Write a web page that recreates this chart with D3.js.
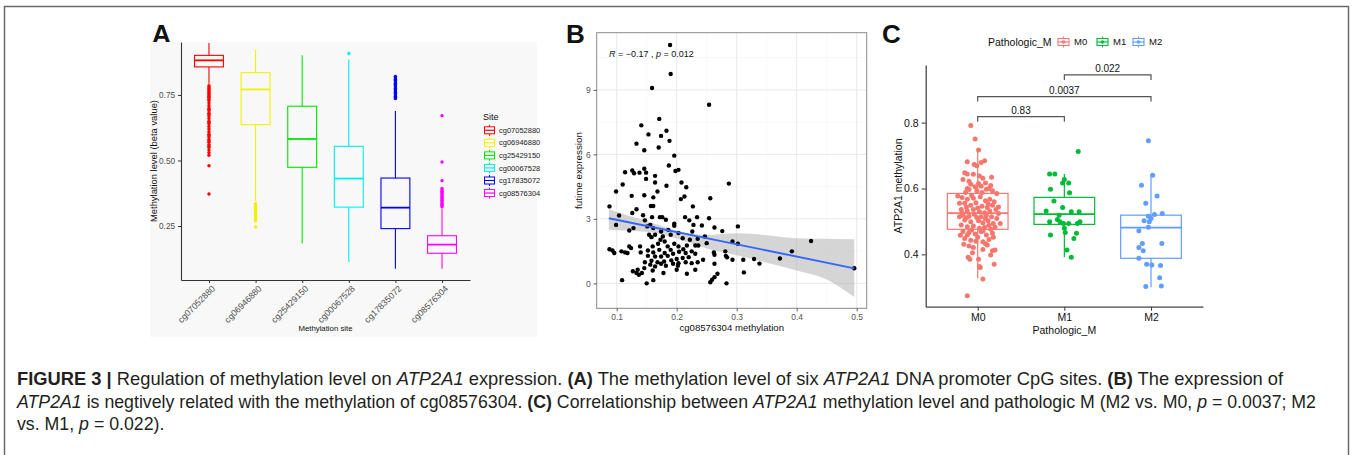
<!DOCTYPE html>
<html><head><meta charset="utf-8">
<script src="https://cdn.jsdelivr.net/npm/d3@7"></script>
<style>body{margin:0;background:#fff}svg{display:block}text{font-family:"Liberation Sans",Arial,sans-serif}</style>
</head><body><svg id="fig" width="1352" height="455"></svg>
<script>
// ---------------- Panel A data ----------------
const sites = ["cg07052880","cg06946880","cg25429150","cg00067528","cg17835072","cg08576304"];
const siteColors = ["#FF0000","#F2F200","#00E800","#00EEEE","#0000FF","#FF00FF"];
const siteLow  = [0.793, 0.345, 0.183, 0.113, 0.087, 0.087];
const siteQ1   = [0.857, 0.637, 0.474, 0.322, 0.240, 0.146];
const siteMed  = [0.882, 0.771, 0.582, 0.431, 0.320, 0.179];
const siteQ3   = [0.901, 0.835, 0.707, 0.554, 0.433, 0.213];
const siteHigh = [0.948, 0.923, 0.901, 0.885, 0.689, 0.316];
const siteOutliers = [
  [0.785,0.78,0.775,0.77,0.765,0.76,0.755,0.75,0.745,0.74,0.735,0.73,0.72,0.71,0.70,0.695,0.69,0.68,0.675,0.67,0.66,0.65,0.645,0.64,0.63,0.62,0.61,0.60,0.595,0.59,0.58,0.575,0.57,0.56,0.555,0.55,0.54,0.53,0.52,0.48,0.372],
  [0.335,0.33,0.325,0.32,0.315,0.31,0.305,0.30,0.295,0.29,0.285,0.28,0.275,0.27,0.246],
  [],
  [0.908],
  [0.821,0.815,0.81,0.805,0.80,0.795,0.79,0.785,0.78,0.775,0.77,0.765,0.76,0.755,0.75,0.745,0.74,0.736],
  [0.671,0.494,0.423,0.393,0.388,0.383,0.378,0.373,0.368,0.363,0.358,0.353,0.348,0.343,0.338,0.333,0.328,0.323]
];
const tickA = [0.25,0.50,0.75];

// ---------------- Panel B data ----------------
const bX = [0.189,0.190,0.159,0.254,0.171,0.141,0.183,0.153,0.174,0.188,0.133,0.170,0.146,0.196,0.187,0.203,0.198,0.126,0.146,0.114,0.129,0.138,0.149,0.164,0.149,0.164,0.208,0.287,0.110,0.183,0.216,0.099,0.168,0.125,0.146,0.213,0.161,0.256,0.207,0.157,0.161,0.088,0.227,0.133,0.126,0.144,0.104,0.159,0.172,0.176,0.214,0.234,0.254,0.182,0.147,0.221,0.196,0.196,0.099,0.156,0.228,0.242,0.151,0.302,0.263,0.128,0.161,0.186,0.121,0.276,0.174,0.226,0.203,0.164,0.154,0.190,0.177,0.247,0.158,0.210,0.235,0.173,0.222,0.293,0.180,0.424,0.250,0.169,0.196,0.302,0.217,0.231,0.236,0.185,0.203,0.160,0.139,0.121,0.124,0.211,0.088,0.190,0.171,0.093,0.152,0.108,0.225,0.392,0.281,0.204,0.114,0.140,0.161,0.262,0.096,0.118,0.180,0.215,0.194,0.231,0.263,0.152,0.185,0.282,0.164,0.174,0.220,0.284,0.210,0.372,0.200,0.329,0.244,0.293,0.311,0.191,0.158,0.179,0.168,0.147,0.215,0.235,0.203,0.225,0.174,0.194,0.263,0.338,0.156,0.182,0.202,0.164,0.146,0.496,0.135,0.200,0.231,0.160,0.127,0.312,0.133,0.142,0.178,0.268,0.217,0.137,0.263,0.259,0.109,0.161,0.256,0.150,0.283];
const bY = [11.09,9.74,9.09,8.31,7.65,7.35,7.10,6.93,6.86,6.63,6.50,6.32,6.19,5.94,5.48,5.28,5.23,5.25,5.33,5.17,5.12,5.15,5.15,5.00,4.86,4.69,4.69,4.64,4.60,4.54,4.47,4.27,4.27,4.07,4.10,4.04,4.00,3.96,3.92,3.60,3.60,3.58,3.58,3.45,3.27,3.17,3.16,3.08,3.08,3.08,3.08,3.08,3.03,2.96,2.93,2.93,2.77,2.68,2.72,2.72,2.72,2.69,2.65,2.65,2.60,2.57,2.57,2.49,2.46,2.43,2.41,2.41,2.34,2.26,2.26,2.26,2.18,2.18,2.15,2.10,2.07,2.03,2.03,1.95,1.95,1.97,1.87,1.84,1.84,1.84,1.76,1.76,1.76,1.72,1.72,1.72,1.72,1.72,1.64,1.59,1.59,1.56,1.56,1.53,1.53,1.49,1.49,1.49,1.49,1.47,1.44,1.44,1.44,1.44,1.41,1.41,1.41,1.41,1.38,1.38,1.33,1.28,1.28,1.28,1.25,1.25,1.22,1.21,1.18,1.16,1.13,1.13,1.10,1.10,1.10,1.07,1.05,1.02,0.98,0.98,0.98,0.98,0.94,0.94,0.91,0.91,0.91,0.92,0.87,0.82,0.82,0.79,0.71,0.70,0.63,0.63,0.63,0.60,0.56,0.51,0.48,0.48,0.48,0.45,0.45,0.40,0.29,0.17,0.15,0.15,0.05,0.00,0.00];
const fitX = [0.087, 0.496];
const fitY = [3.03, 0.70];
const bandX  = [0.087,0.12,0.15,0.19,0.22,0.25,0.30,0.35,0.40,0.45,0.496];
const bandLo = [2.49,2.45,2.40,2.17,1.90,1.62,1.31,0.96,0.60,0.18,-0.64];
const bandHi = [3.46,3.14,2.90,2.53,2.33,2.25,2.33,2.24,2.10,2.07,2.05];
const tickBX = [0.1,0.2,0.3,0.4,0.5];
const tickBY = [0,3,6,9];

// ---------------- Panel C data ----------------
const groups = ["M0","M1","M2"];
const groupColors = ["#F8766D","#00BA38","#619CFF"];
const gLow  = [0.327, 0.391, 0.300];
const gQ1   = [0.476, 0.491, 0.388];
const gMed  = [0.525, 0.522, 0.481];
const gQ3   = [0.585, 0.573, 0.519];
const gHigh = [0.722, 0.644, 0.644];
const m0Pts = [[-0.08,0.791],[-0.03,0.750],[0.01,0.717],[-0.12,0.681],[-0.04,0.673],[-0.01,0.669],[0.04,0.679],[0.08,0.684],[-0.15,0.648],[-0.12,0.644],[-0.05,0.643],[0.02,0.638],[0.16,0.634],[-0.17,0.627],[-0.08,0.613],[0.01,0.615],[0.09,0.617],[-0.12,0.600],[-0.03,0.605],[0.04,0.607],[0.13,0.600],[0.06,0.631],[-0.10,0.622],[0.15,0.609],
[-0.10,0.597],[-0.01,0.593],[0.10,0.598],[0.17,0.593],[0.22,0.585],[-0.18,0.573],[-0.12,0.567],[-0.05,0.570],[0.03,0.575],[0.09,0.563],[0.14,0.567],[0.19,0.560],[-0.15,0.555],[-0.08,0.549],[-0.02,0.557],[0.05,0.546],[0.11,0.542],[0.17,0.549],[-0.19,0.536],[-0.12,0.532],[-0.05,0.536],[0.02,0.529],[0.08,0.526],[0.14,0.532],[0.21,0.536],[-0.17,0.519],[-0.10,0.516],[-0.04,0.522],[0.04,0.514],[0.10,0.519],[0.16,0.514],[0.22,0.509],[-0.15,0.504],[-0.08,0.499],[0.01,0.502],[0.06,0.496],[0.12,0.502],[0.18,0.494],[-0.19,0.489],[-0.12,0.484],[-0.05,0.486],[0.02,0.479],[0.08,0.482],[0.15,0.476],[0.20,0.482],[-0.17,0.469],[-0.10,0.466],[-0.03,0.462],[0.04,0.469],[0.10,0.459],[0.17,0.464],[-0.15,0.448],[-0.08,0.443],[0.00,0.452],[0.06,0.438],[0.13,0.445],[-0.16,0.431],[-0.05,0.421],[0.06,0.415],[0.17,0.411],[0.20,0.413],[-0.11,0.391],[-0.09,0.385],[0.01,0.385],[0.19,0.370],[0.02,0.363],[0.03,0.360],[0.06,0.325],[-0.12,0.274],[-0.12,0.459],[0.11,0.428],[-0.21,0.514],[-0.21,0.555],[0.24,0.544],[0.24,0.524],[-0.23,0.577],[0.26,0.494],
[-0.14,0.588],[0.05,0.588],[-0.07,0.579],[0.12,0.553],[-0.13,0.543],[0.00,0.541],[-0.18,0.526],[0.09,0.509],[-0.01,0.512],[-0.13,0.511],[0.13,0.488],[-0.07,0.474],[0.06,0.471],[-0.20,0.458],[0.18,0.452],[-0.02,0.440],[0.09,0.432],[-0.10,0.425],[0.15,0.398],[-0.06,0.405]];
const m1Pts = [[0.16,0.712],[-0.17,0.644],[-0.11,0.644],[0.00,0.627],[-0.02,0.617],[0.05,0.617],[0.06,0.587],[-0.16,0.598],[-0.12,0.562],[-0.02,0.542],[-0.21,0.532],[0.08,0.529],[0.17,0.529],[-0.06,0.519],[-0.08,0.506],[-0.17,0.499],[-0.05,0.499],[-0.01,0.494],[0.15,0.494],[0.18,0.499],[0.05,0.494],[0.00,0.479],[0.01,0.466],[-0.16,0.459],[0.14,0.464],[0.11,0.448],[0.03,0.413],[0.08,0.391]];
const m2Pts = [[-0.03,0.745],[0.02,0.640],[-0.11,0.610],[0.07,0.577],[-0.06,0.555],[0.13,0.524],[0.04,0.521],[-0.03,0.516],[0.00,0.509],[-0.08,0.502],[-0.02,0.499],[-0.03,0.482],[-0.14,0.472],[-0.10,0.433],[0.125,0.433],[-0.14,0.421],[-0.09,0.411],[-0.14,0.388],[-0.05,0.370],[0.01,0.368],[0.11,0.366],[0.10,0.329],[-0.06,0.302],[0.12,0.304]];
const compPairs = [["M0","M1"],["M0","M2"],["M1","M2"]];
const compLabels = ["0.83","0.0037","0.022"];
const compY = [0.818, 0.879, 0.945];
const tickC = [0.4,0.6,0.8];

// ---------------- drawing ----------------
const svg = d3.select("#fig");
svg.append("rect").attr("width",1352).attr("height",455).attr("fill","#fff");
svg.append("rect").attr("x",4.5).attr("y",6.5).attr("width",1344).attr("height",480)
  .attr("fill","none").attr("stroke","#6a6a6a").attr("stroke-width",1.5);

// panel letters
[["A",152],["B",566],["C",882]].forEach(([t,x])=>{
  svg.append("text").attr("x",x).attr("y",43).attr("font-size",26).attr("font-weight","bold").attr("fill","#111").text(t);
});

// ===== Panel A =====
const gA = svg.append("g");
gA.append("rect").attr("x",150).attr("y",42).attr("width",387).attr("height",295).attr("fill","#f8f8f8");
const xA = d3.scalePoint().domain(sites).range([181,470]).padding(0.6);
const yA = d3.scaleLinear().domain([0.044,0.952]).range([280,42]);
const bwA = xA.step()*0.62;
const boxA = sites.map((s,i)=>({s,c:siteColors[i],lo:siteLow[i],q1:siteQ1[i],med:siteMed[i],q3:siteQ3[i],hi:siteHigh[i],out:siteOutliers[i]}));
gA.selectAll(".wlo").data(boxA).join("line").attr("x1",d=>xA(d.s)).attr("x2",d=>xA(d.s))
  .attr("y1",d=>yA(d.lo)).attr("y2",d=>yA(d.q1)).attr("stroke",d=>d.c).attr("stroke-width",1.1);
gA.selectAll(".whi").data(boxA).join("line").attr("x1",d=>xA(d.s)).attr("x2",d=>xA(d.s))
  .attr("y1",d=>yA(d.q3)).attr("y2",d=>yA(d.hi)).attr("stroke",d=>d.c).attr("stroke-width",1.1);
gA.selectAll(".bx").data(boxA).join("rect").attr("x",d=>xA(d.s)-bwA/2).attr("width",bwA)
  .attr("y",d=>yA(d.q3)).attr("height",d=>yA(d.q1)-yA(d.q3)).attr("fill","none").attr("stroke",d=>d.c).attr("stroke-width",1.1);
gA.selectAll(".md").data(boxA).join("line").attr("x1",d=>xA(d.s)-bwA/2).attr("x2",d=>xA(d.s)+bwA/2)
  .attr("y1",d=>yA(d.med)).attr("y2",d=>yA(d.med)).attr("stroke",d=>d.c).attr("stroke-width",1.8);
const outA = boxA.flatMap(d=>d.out.map(v=>({s:d.s,c:d.c,v})));
gA.selectAll(".out").data(outA).join("circle").attr("cx",d=>xA(d.s)).attr("cy",d=>yA(d.v)).attr("r",1.7).attr("fill",d=>d.c);

const axAy = gA.append("g").attr("transform","translate(181,0)")
  .call(d3.axisLeft(yA).tickValues(tickA).tickSize(3).tickSizeOuter(0).tickFormat(d3.format(".2f")));
const axAx = gA.append("g").attr("transform","translate(0,280)")
  .call(d3.axisBottom(xA).tickSize(3).tickSizeOuter(0));
[axAy,axAx].forEach(a=>{a.select(".domain").attr("stroke","#333").attr("stroke-width",1.1);
  a.selectAll(".tick line").attr("stroke","#333");
  a.selectAll("text").attr("fill","#4d4d4d").attr("font-size",8.2).attr("font-family","Liberation Sans, Arial, sans-serif");});
axAx.selectAll("text").attr("font-size",8.8).attr("text-anchor","end").attr("y",0).attr("dy","0.35em")
  .attr("transform","translate(4,7) rotate(-45)");
gA.append("text").attr("transform","translate(157,161) rotate(-90)").attr("text-anchor","middle")
  .attr("font-size",9.4).attr("fill","#111").text("Methylation level (beta value)");
gA.append("text").attr("x",xA.range()[0]+(xA.range()[1]-xA.range()[0])/2).attr("y",331).attr("text-anchor","middle")
  .attr("font-size",7.8).attr("fill","#111").text("Methylation site");
// legend A
const legA = gA.append("g").attr("transform","translate(483,0)");
legA.append("text").attr("x",0).attr("y",120).attr("font-size",9).attr("fill","#111").text("Site");
const legRows = legA.selectAll(".lr").data(boxA).join("g").attr("transform",(d,i)=>`translate(0,${130.3+i*12.55})`);
legRows.append("line").attr("x1",6.5).attr("x2",6.5).attr("y1",-5.5).attr("y2",5.5).attr("stroke",d=>d.c);
legRows.append("rect").attr("x",1.5).attr("y",-3.5).attr("width",10).attr("height",7).attr("fill","#fff").attr("stroke",d=>d.c).attr("stroke-width",1);
legRows.append("line").attr("x1",1.5).attr("x2",11.5).attr("y1",0).attr("y2",0).attr("stroke",d=>d.c).attr("stroke-width",1.2);
legRows.append("text").attr("x",16).attr("y",0).attr("dy","0.35em").attr("font-size",7.5).attr("fill","#222").text(d=>d.s);

// ===== Panel B =====
const gB = svg.append("g");
const xB = d3.scaleLinear().domain([0.0667,0.5167]).range([596.7,866.7]);
const yB = d3.scaleLinear().domain([-1.16,11.66]).range([308.3,32.7]);
gB.append("rect").attr("x",596.7).attr("y",32.7).attr("width",270).attr("height",275.6).attr("fill","#fff");
const minorBX = [0.15,0.25,0.35,0.45], minorBY=[1.5,4.5,7.5,10.5];
gB.selectAll(".gmx").data(minorBX).join("line").attr("x1",d=>xB(d)).attr("x2",d=>xB(d)).attr("y1",32.7).attr("y2",308.3).attr("stroke","#f3f3f3").attr("stroke-width",0.6);
gB.selectAll(".gmy").data(minorBY).join("line").attr("y1",d=>yB(d)).attr("y2",d=>yB(d)).attr("x1",596.7).attr("x2",866.7).attr("stroke","#f3f3f3").attr("stroke-width",0.6);
gB.selectAll(".gx").data(tickBX).join("line").attr("x1",d=>xB(d)).attr("x2",d=>xB(d)).attr("y1",32.7).attr("y2",308.3).attr("stroke","#e9e9e9").attr("stroke-width",1);
gB.selectAll(".gy").data(tickBY).join("line").attr("y1",d=>yB(d)).attr("y2",d=>yB(d)).attr("x1",596.7).attr("x2",866.7).attr("stroke","#e9e9e9").attr("stroke-width",1);
const band = bandX.map((x,i)=>({x,lo:bandLo[i],hi:bandHi[i]}));
gB.append("path").datum(band).attr("d",d3.area().x(d=>xB(d.x)).y0(d=>yB(d.lo)).y1(d=>yB(d.hi)).curve(d3.curveMonotoneX))
  .attr("fill","#b3b3b3").attr("opacity",0.55);
const ptsB = bX.map((x,i)=>({x,y:bY[i]}));
gB.selectAll(".pb").data(ptsB).join("circle").attr("cx",d=>xB(d.x)).attr("cy",d=>yB(d.y)).attr("r",2.2).attr("fill","#000");
gB.append("path").datum(fitX.map((x,i)=>({x,y:fitY[i]}))).attr("d",d3.line().x(d=>xB(d.x)).y(d=>yB(d.y)))
  .attr("stroke","#3366FF").attr("stroke-width",1.9).attr("fill","none");
gB.append("rect").attr("x",596.7).attr("y",32.7).attr("width",270).attr("height",275.6).attr("fill","none").attr("stroke","#8a8a8a").attr("stroke-width",1);
const axBx = gB.append("g").attr("transform","translate(0,308.3)").call(d3.axisBottom(xB).tickValues(tickBX).tickSize(3).tickFormat(d3.format(".1f")));
const axBy = gB.append("g").attr("transform","translate(596.7,0)").call(d3.axisLeft(yB).tickValues(tickBY).tickSize(3));
[axBx,axBy].forEach(a=>{a.select(".domain").remove();a.selectAll(".tick line").attr("stroke","#555");
  a.selectAll("text").attr("fill","#555").attr("font-size",8.5).attr("font-family","Liberation Sans, Arial, sans-serif");});
gB.append("text").attr("transform",`translate(582,${(32.7+308.3)/2}) rotate(-90)`).attr("text-anchor","middle")
  .attr("font-size",9.8).attr("fill","#111").text("futime expression");
gB.append("text").attr("x",(596.7+866.7)/2).attr("y",331).attr("text-anchor","middle")
  .attr("font-size",9.6).attr("fill","#111").text("cg08576304 methylation");
const ann = gB.append("text").attr("x",609).attr("y",57).attr("font-size",9).attr("fill","#111");
ann.append("tspan").attr("font-style","italic").text("R");
ann.append("tspan").text(" = \u22120.17 , ");
ann.append("tspan").attr("font-style","italic").text("p");
ann.append("tspan").text(" = 0.012");

// ===== Panel C =====
const gC = svg.append("g");
const xC = d3.scalePoint().domain(groups).range([925.7,1203]).padding(0.6);
const yC = d3.scaleLinear().domain([0.241,0.975]).range([306.7,65]);
const bwC = xC.step()*0.7;
const boxC = groups.map((g,i)=>({g,c:groupColors[i],lo:gLow[i],q1:gQ1[i],med:gMed[i],q3:gQ3[i],hi:gHigh[i]}));
gC.selectAll(".wlo").data(boxC).join("line").attr("x1",d=>xC(d.g)).attr("x2",d=>xC(d.g))
  .attr("y1",d=>yC(d.lo)).attr("y2",d=>yC(d.q1)).attr("stroke",d=>d.c).attr("stroke-width",1.2);
gC.selectAll(".whi").data(boxC).join("line").attr("x1",d=>xC(d.g)).attr("x2",d=>xC(d.g))
  .attr("y1",d=>yC(d.q3)).attr("y2",d=>yC(d.hi)).attr("stroke",d=>d.c).attr("stroke-width",1.2);
gC.selectAll(".bx").data(boxC).join("rect").attr("x",d=>xC(d.g)-bwC/2).attr("width",bwC)
  .attr("y",d=>yC(d.q3)).attr("height",d=>yC(d.q1)-yC(d.q3)).attr("fill","none").attr("stroke",d=>d.c).attr("stroke-width",1.2);
gC.selectAll(".md").data(boxC).join("line").attr("x1",d=>xC(d.g)-bwC/2).attr("x2",d=>xC(d.g)+bwC/2)
  .attr("y1",d=>yC(d.med)).attr("y2",d=>yC(d.med)).attr("stroke",d=>d.c).attr("stroke-width",1.8);
const ptsC = [m0Pts,m1Pts,m2Pts].flatMap((arr,i)=>arr.map(([dx,v])=>({g:groups[i],c:groupColors[i],dx,v})));
gC.selectAll(".pc").data(ptsC).join("circle").attr("cx",d=>xC(d.g)+d.dx*xC.step()).attr("cy",d=>yC(d.v))
  .attr("r",2.5).attr("fill",d=>d.c);
const axCy = gC.append("g").attr("transform","translate(925.7,0)").call(d3.axisLeft(yC).tickValues(tickC).tickSize(4).tickSizeOuter(0).tickFormat(d3.format(".1f")));
const axCx = gC.append("g").attr("transform","translate(0,306.7)").call(d3.axisBottom(xC).tickSize(4).tickSizeOuter(0));
[axCy,axCx].forEach(a=>{a.select(".domain").attr("stroke","#444").attr("stroke-width",1.3);
  a.selectAll(".tick line").attr("stroke","#444").attr("stroke-width",1.1);
  a.selectAll("text").attr("fill","#111").attr("font-size",10.5).attr("font-family","Liberation Sans, Arial, sans-serif");});
gC.append("text").attr("transform",`translate(902,186) rotate(-90)`).attr("text-anchor","middle")
  .attr("font-size",10.5).attr("fill","#111").text("ATP2A1 methylation");
gC.append("text").attr("x",xC("M1")).attr("y",334).attr("text-anchor","middle")
  .attr("font-size",10.5).attr("fill","#111").text("Pathologic_M");
// brackets
const br = compPairs.map((p,i)=>({a:p[0],b:p[1],lab:compLabels[i],y:compY[i]}));
gC.selectAll(".br").data(br).join("path")
  .attr("d",d=>`M${xC(d.a)},${yC(d.y)+5}V${yC(d.y)}H${xC(d.b)}V${yC(d.y)+5}`)
  .attr("fill","none").attr("stroke","#555").attr("stroke-width",1.2);
gC.selectAll(".brt").data(br).join("text").attr("x",d=>(xC(d.a)+xC(d.b))/2).attr("y",d=>yC(d.y)-3)
  .attr("text-anchor","middle").attr("font-size",10).attr("fill","#111").text(d=>d.lab);
// legend C
gC.append("text").attr("x",988).attr("y",42).attr("dy","0.35em").attr("font-size",10.5).attr("fill","#111").text("Pathologic_M");
const legCx = [1058,1097,1133];
const lc = gC.selectAll(".lc").data(boxC).join("g").attr("transform",(d,i)=>`translate(${legCx[i]},42)`);
lc.append("line").attr("x1",5.5).attr("x2",5.5).attr("y1",-5.5).attr("y2",5.5).attr("stroke",d=>d.c).attr("stroke-width",1.1);
lc.append("rect").attr("x",0).attr("y",-3.5).attr("width",11).attr("height",7).attr("fill","#fff").attr("stroke",d=>d.c).attr("stroke-width",1.1);
lc.append("line").attr("x1",0).attr("x2",11).attr("y1",0).attr("y2",0).attr("stroke",d=>d.c).attr("stroke-width",1.1);
lc.append("circle").attr("cx",5.5).attr("cy",0).attr("r",1.8).attr("fill",d=>d.c);
lc.append("text").attr("x",16).attr("y",0).attr("dy","0.35em").attr("font-size",9.5).attr("fill","#111").text(d=>d.g);

// ===== Caption =====
const capLines = [
  {y:385, w:1267, parts:[["FIGURE 3 |","b"],[" Regulation of methylation level on ",""],["ATP2A1","i"],[" expression. ",""],["(A)","b"],[" The methylation level of six ",""],["ATP2A1","i"],[" DNA promoter CpG sites. ",""],["(B)","b"],[" The expression of",""]]},
  {y:407.5, w:1300, parts:[["ATP2A1","i"],[" is negtively related with the methylation of cg08576304. ",""],["(C)","b"],[" Correlationship between ",""],["ATP2A1","i"],[" methylation level and pathologic M (M2 vs. M0, ",""],["p","i"],[" = 0.0037; M2",""]]},
  {y:430, w:null, parts:[["vs. M1, ",""],["p","i"],[" = 0.022).",""]]}
];
let sx = 0.82;
capLines.forEach(L=>{
  const t = svg.append("text").attr("x",0).attr("y",0).attr("font-size",17.5).attr("fill","#231f20");
  L.parts.forEach(([s,f])=>{const sp=t.append("tspan").text(s);
    if(f==="b") sp.attr("font-weight","bold"); if(f==="i") sp.attr("font-style","italic");});
  if(L.w){const w=t.node().getComputedTextLength(); sx=L.w/w;}
  t.attr("transform",`translate(17,${L.y}) scale(${sx},1)`);
});
</script></body></html>
